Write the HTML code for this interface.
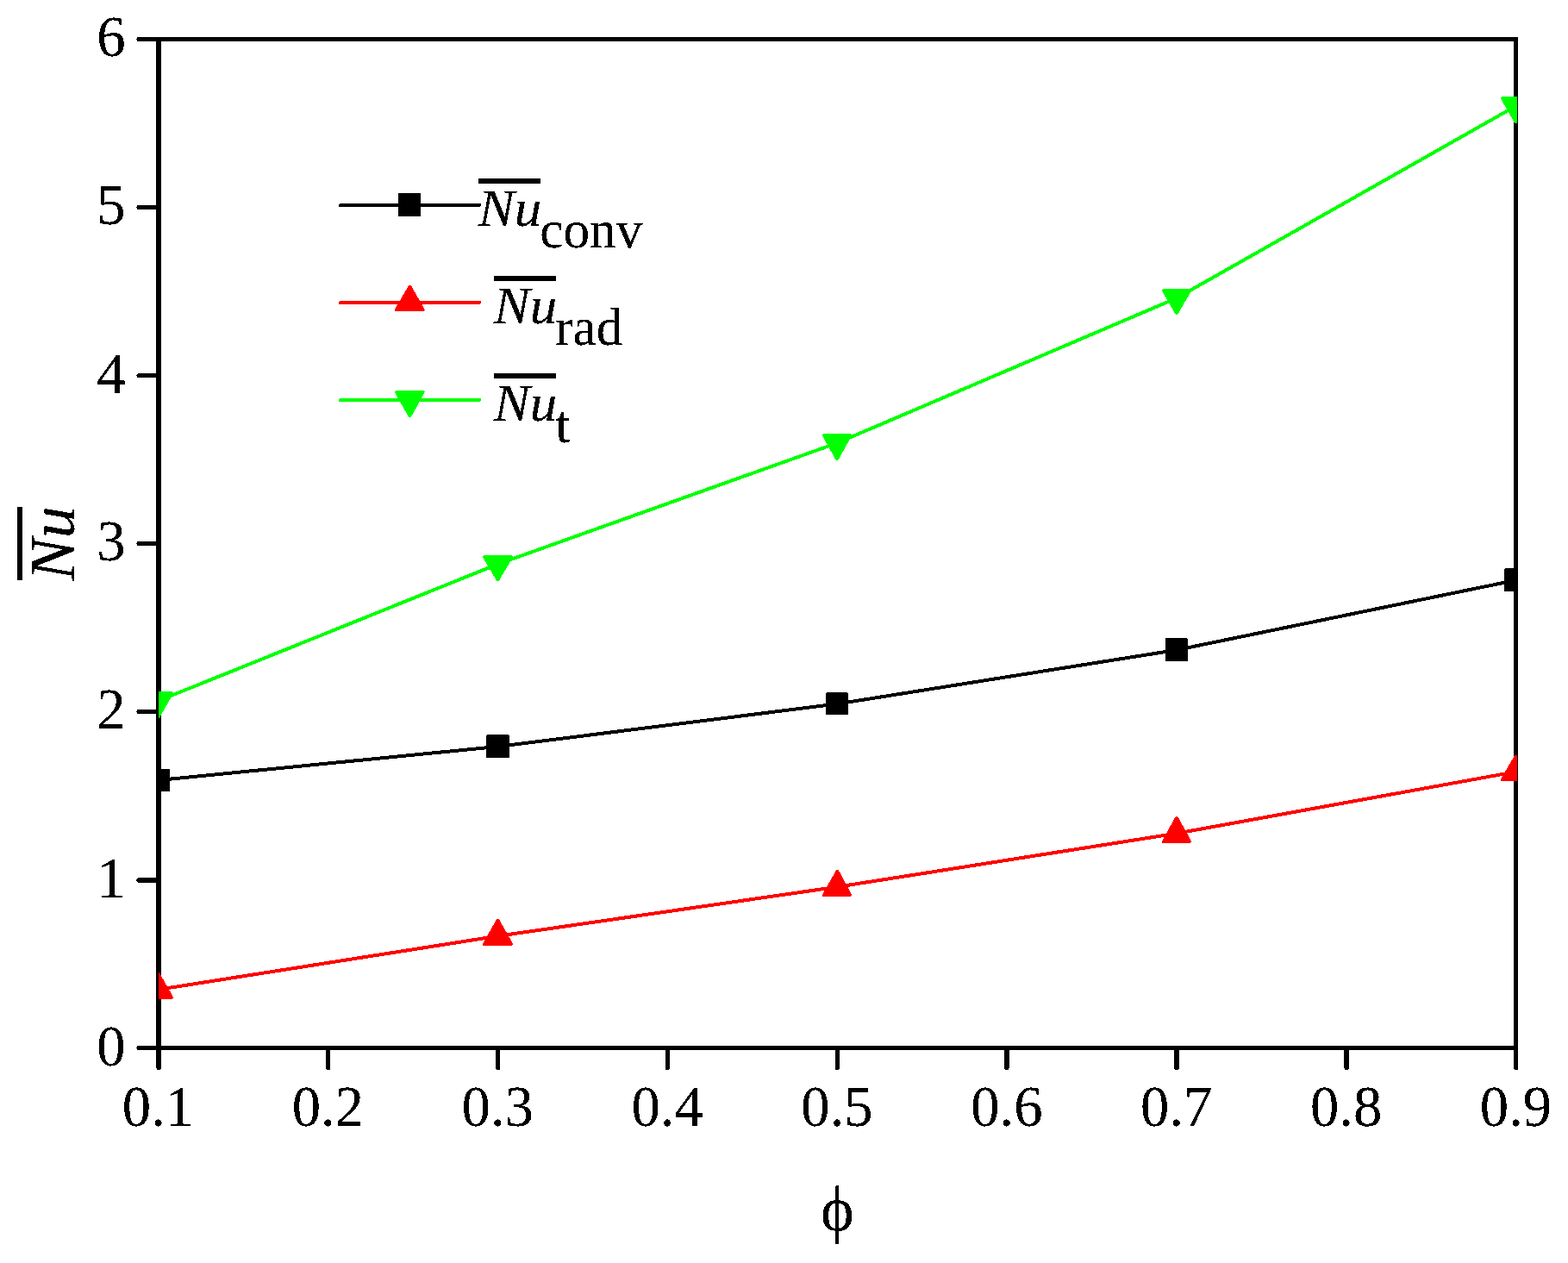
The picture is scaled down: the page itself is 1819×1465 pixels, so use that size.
<!DOCTYPE html>
<html lang="en"><head><meta charset="utf-8"><title>Average Nusselt number versus porosity</title>
<style>
html,body{margin:0;padding:0;background:#fff;}
body{width:1819px;height:1465px;overflow:hidden;}
svg{display:block;position:absolute;left:0;top:0;}
text{font-family:"Liberation Serif","DejaVu Serif",serif;fill:#000;}
.crisp{filter:url(#crisp);}
.tk{font-size:66.67px;}
.it{font-style:italic;}
</style></head><body>
<svg width="1819" height="1465" viewBox="0 0 1819 1465">
<rect width="1819" height="1465" fill="#fff"/>
<g id="axes" fill="#000" shape-rendering="crispEdges">
<rect x="181" y="43" width="6" height="1175"/>
<rect x="1756" y="43" width="5" height="1175"/>
<rect x="159" y="43" width="1602" height="5"/>
<rect x="159" y="1213" width="1602" height="5"/>
<rect x="159" y="43" width="23" height="1"/>
<rect x="159" y="44" width="23" height="1"/>
<rect x="158" y="45" width="24" height="1"/>
<rect x="159" y="46" width="23" height="1"/>
<rect x="159" y="47" width="23" height="1"/>
<rect x="159" y="238" width="23" height="1"/>
<rect x="159" y="239" width="23" height="1"/>
<rect x="158" y="240" width="24" height="1"/>
<rect x="159" y="241" width="23" height="1"/>
<rect x="159" y="242" width="23" height="1"/>
<rect x="160" y="433" width="22" height="1"/>
<rect x="159" y="434" width="23" height="1"/>
<rect x="158" y="435" width="24" height="1"/>
<rect x="159" y="436" width="23" height="1"/>
<rect x="159" y="437" width="23" height="1"/>
<rect x="159" y="628" width="23" height="1"/>
<rect x="159" y="629" width="23" height="1"/>
<rect x="158" y="630" width="24" height="1"/>
<rect x="159" y="631" width="23" height="1"/>
<rect x="159" y="632" width="23" height="1"/>
<rect x="159" y="823" width="23" height="1"/>
<rect x="159" y="824" width="23" height="1"/>
<rect x="158" y="825" width="24" height="1"/>
<rect x="159" y="826" width="23" height="1"/>
<rect x="159" y="827" width="23" height="1"/>
<rect x="160" y="1018" width="22" height="1"/>
<rect x="159" y="1019" width="23" height="1"/>
<rect x="158" y="1020" width="24" height="1"/>
<rect x="158" y="1021" width="24" height="1"/>
<rect x="159" y="1022" width="23" height="1"/>
<rect x="160" y="1023" width="22" height="1"/>
<rect x="159" y="1213" width="23" height="1"/>
<rect x="159" y="1214" width="23" height="1"/>
<rect x="158" y="1215" width="24" height="1"/>
<rect x="159" y="1216" width="23" height="1"/>
<rect x="159" y="1217" width="23" height="1"/>
<rect x="181" y="1218" width="6" height="21"/>
<rect x="182" y="1239" width="5" height="1"/>
<rect x="182" y="1240" width="4" height="1"/>
<rect x="378" y="1218" width="5" height="22"/>
<rect x="379" y="1240" width="4" height="1"/>
<rect x="575" y="1218" width="5" height="22"/>
<rect x="576" y="1240" width="4" height="1"/>
<rect x="772" y="1218" width="5" height="22"/>
<rect x="772" y="1240" width="4" height="1"/>
<rect x="969" y="1218" width="5" height="22"/>
<rect x="969" y="1240" width="4" height="1"/>
<rect x="1165" y="1218" width="6" height="21"/>
<rect x="1165" y="1239" width="5" height="1"/>
<rect x="1166" y="1240" width="4" height="1"/>
<rect x="1362" y="1218" width="6" height="22"/>
<rect x="1363" y="1240" width="4" height="1"/>
<rect x="1559" y="1218" width="6" height="21"/>
<rect x="1560" y="1239" width="5" height="1"/>
<rect x="1560" y="1240" width="4" height="1"/>
<rect x="1756" y="1218" width="5" height="22"/>
<rect x="1757" y="1240" width="4" height="1"/>
</g>
<defs><clipPath id="plot"><rect x="184" y="46" width="1576" height="1170"/></clipPath><filter id="crisp" x="-5%" y="-5%" width="110%" height="110%" color-interpolation-filters="sRGB"><feComponentTransfer><feFuncA type="discrete" tableValues="0 0 1 1 1"/></feComponentTransfer></filter></defs>
<g id="series" clip-path="url(#plot)" shape-rendering="crispEdges">
<polyline points="183.5,905 577.25,866 971,816.5 1364.75,754 1758.5,673" fill="none" stroke="#000" stroke-width="4" stroke-linejoin="round"/>
<path d="M170,892H197V892H197V918H170V892H170Z" fill="#000"/>
<path d="M565,852H590V853H591V879H564V853H565Z" fill="#000"/>
<path d="M959,803H983V804H984V829H958V804H959Z" fill="#000"/>
<path d="M1352,740H1377V741H1378V767H1352V740H1352Z" fill="#000"/>
<path d="M1746,659H1772V659H1772V686H1745V660H1746Z" fill="#000"/>
<polyline points="183.5,1147.85 577.25,1085.85 971,1028.8 1364.75,966.75 1758.5,895.2" fill="none" stroke="#f00" stroke-width="4" stroke-linejoin="round"/>
<polygon points="183.5,1130 199,1157 168,1157" fill="#f00" stroke="#f00" stroke-width="4" stroke-linejoin="round"/>
<polygon points="577.5,1068 593,1095 562,1095" fill="#f00" stroke="#f00" stroke-width="4" stroke-linejoin="round"/>
<polygon points="971.5,1011 986,1038 956,1038" fill="#f00" stroke="#f00" stroke-width="4" stroke-linejoin="round"/>
<polygon points="1365,949 1380,976 1350,976" fill="#f00" stroke="#f00" stroke-width="4" stroke-linejoin="round"/>
<polygon points="1758.5,878 1774,904 1743,904" fill="#f00" stroke="#f00" stroke-width="4" stroke-linejoin="round"/>
<polyline points="183.5,813 577.25,654.45 971,513.9 1364.75,345.9 1758.5,123" fill="none" stroke="#0f0" stroke-width="4" stroke-linejoin="round"/>
<polygon points="183.5,831 199,804 168,804" fill="#0f0" stroke="#0f0" stroke-width="4" stroke-linejoin="round"/>
<polygon points="577.5,672 593,646 562,646" fill="#0f0" stroke="#0f0" stroke-width="4" stroke-linejoin="round"/>
<polygon points="971,532 986,505 956,505" fill="#0f0" stroke="#0f0" stroke-width="4" stroke-linejoin="round"/>
<polygon points="1365,363 1380,337 1350,337" fill="#0f0" stroke="#0f0" stroke-width="4" stroke-linejoin="round"/>
<polygon points="1758.5,141 1774,114 1743,114" fill="#0f0" stroke="#0f0" stroke-width="4" stroke-linejoin="round"/>
</g>
<g id="ylabels" class="tk crisp" text-anchor="end">
<text transform="translate(145.7,65.4) scale(1,1.027)">6</text>
<text transform="translate(145.7,260.4) scale(1,1.027)">5</text>
<text transform="translate(145.7,455.9) scale(1,1.027)">4</text>
<text transform="translate(145.7,650.4) scale(1,1.027)">3</text>
<text transform="translate(145.7,845) scale(1,1.027)">2</text>
<text transform="translate(145.7,1041.1) scale(1,1.027)">1</text>
<text transform="translate(145.7,1236.3) scale(1,1.027)">0</text>
</g>
<g id="xlabels" class="tk crisp" text-anchor="middle">
<text transform="translate(183.5,1306.2) scale(1,1.02)">0.1</text>
<text transform="translate(380.375,1306.2) scale(1,1.02)">0.2</text>
<text transform="translate(577.25,1306.2) scale(1,1.02)">0.3</text>
<text transform="translate(774.125,1306.2) scale(1,1.02)">0.4</text>
<text transform="translate(971,1306.2) scale(1,1.02)">0.5</text>
<text transform="translate(1167.88,1306.2) scale(1,1.02)">0.6</text>
<text transform="translate(1364.75,1306.2) scale(1,1.02)">0.7</text>
<text transform="translate(1561.62,1306.2) scale(1,1.02)">0.8</text>
<text transform="translate(1758.5,1306.2) scale(1,1.02)">0.9</text>
</g>
<g id="ytitle">
<rect x="20" y="588" width="6" height="85" fill="#000" shape-rendering="crispEdges"/>
<text class="it crisp" transform="translate(86,673.5) rotate(-90) scale(0.984,1)" font-size="75">Nu</text>
</g>
<text id="xtitle" class="crisp" x="971.5" y="1427" font-size="73" text-anchor="middle">ϕ</text>
<g id="legend">
<line x1="395" y1="238" x2="556" y2="238" stroke="#000" stroke-width="4" stroke-linecap="round" shape-rendering="crispEdges"/>
<path d="M462,224H488V224H488V251H462V224H462Z" fill="#000" shape-rendering="crispEdges"/>
<rect x="555" y="207" width="72" height="6" fill="#000" shape-rendering="crispEdges"/>
<text class="it crisp" transform="translate(554.8,262) scale(1.034,1)" font-size="61">Nu</text>
<text class="crisp" x="626.2" y="287" font-size="61.3">conv</text>
<line x1="395" y1="351" x2="556" y2="351" stroke="#f00" stroke-width="4" stroke-linecap="round" shape-rendering="crispEdges"/>
<polygon points="475.5,333 490.6,359 460,359" fill="#f00" stroke="#f00" stroke-width="4" stroke-linejoin="round" shape-rendering="crispEdges"/>
<rect x="573" y="320" width="72" height="6" fill="#000" shape-rendering="crispEdges"/>
<text class="it crisp" transform="translate(572.8,375) scale(1.034,1)" font-size="61">Nu</text>
<text class="crisp" x="644.2" y="400" font-size="61.3">rad</text>
<line x1="395" y1="464" x2="556" y2="464" stroke="#0f0" stroke-width="4" stroke-linecap="round" shape-rendering="crispEdges"/>
<polygon points="475.5,482 490.6,455 460,455" fill="#0f0" stroke="#0f0" stroke-width="4" stroke-linejoin="round" shape-rendering="crispEdges"/>
<rect x="573" y="433" width="72" height="6" fill="#000" shape-rendering="crispEdges"/>
<text class="it crisp" transform="translate(572.8,488) scale(1.034,1)" font-size="61">Nu</text>
<text class="crisp" x="644.2" y="513" font-size="61.3">t</text>
</g>
</svg>
</body></html>
